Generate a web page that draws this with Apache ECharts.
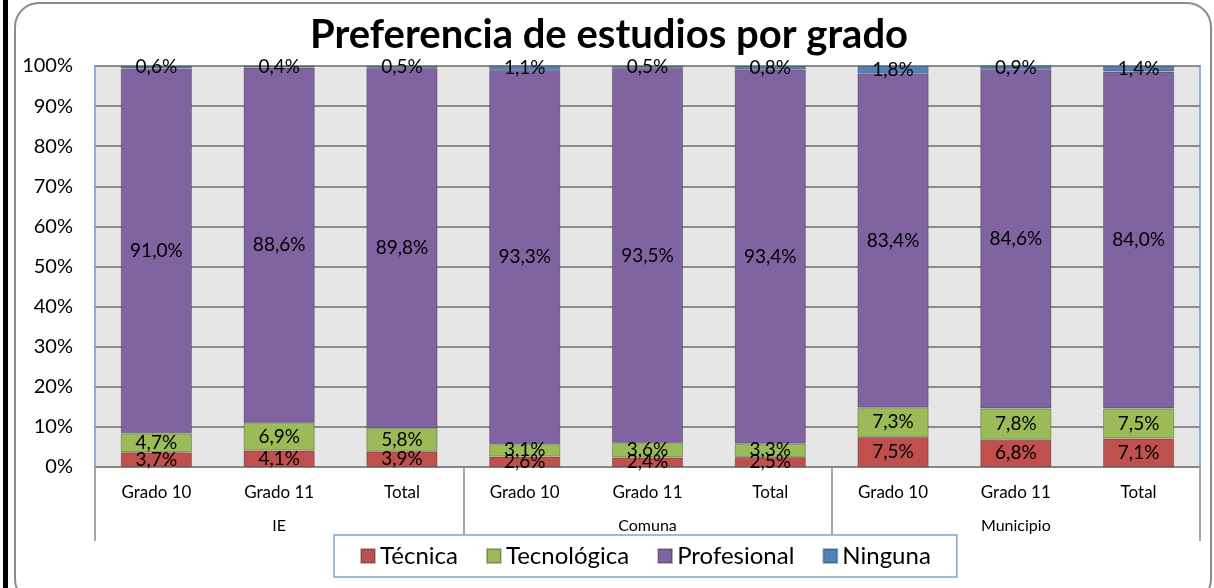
<!DOCTYPE html>
<html>
<head>
<meta charset="utf-8">
<title>Preferencia de estudios por grado</title>
<script src="https://cdn.jsdelivr.net/npm/echarts@6/dist/echarts.min.js"></script>
<style>
    html, body { margin: 0; padding: 0; background: #fff; }
    #chart { width: 1214px; height: 588px; }
</style>
</head>
<body>
<div id="chart"></div>
<script>
// Categories (grade) and their groups
const grados = ['Grado 10', 'Grado 11', 'Total', 'Grado 10', 'Grado 11', 'Total', 'Grado 10', 'Grado 11', 'Total'];
const grupos = ['IE', 'Comuna', 'Municipio'];

// Percent values
const tecnica     = [3.7, 4.1, 3.9, 2.6, 2.4, 2.5, 7.5, 6.8, 7.1];
const tecnologica = [4.7, 6.9, 5.8, 3.1, 3.6, 3.3, 7.3, 7.8, 7.5];
const profesional = [91.0, 88.6, 89.8, 93.3, 93.5, 93.4, 83.4, 84.6, 84.0];
const ninguna     = [0.6, 0.4, 0.5, 1.1, 0.5, 0.8, 1.8, 0.9, 1.4];

const FONT = 'Lato, "Open Sans", sans-serif';

// Format like the original: one decimal with comma
function pct(v) {
    return v.toFixed(1).replace('.', ',') + '%';
}

function makeSeries(name, data, color) {
    return {
        name: name,
        type: 'bar',
        stack: 'total',
        barWidth: '58%',
        data: data,
        itemStyle: {
            color: color,
            borderColor: 'rgba(0,0,0,0.25)',
            borderWidth: 1
        },
        label: {
            show: true,
            position: 'inside',
            color: '#000',
            fontSize: 19,
            fontFamily: FONT,
            formatter: p => pct(p.value)
        }
    };
}

const chart = echarts.init(document.getElementById('chart'));

const options = {
    animation: false,
    backgroundColor: '#fff',
    title: {
        text: 'Preferencia de estudios por grado',
        left: 604,
        textAlign: 'center',
        top: 10,
        textStyle: {
            fontFamily: FONT,
            fontSize: 40,
            fontWeight: 'bold',
            color: '#000'
        }
    },
    legend: {
        data: ['Técnica', 'Tecnológica', 'Profesional', 'Ninguna'],
        left: 334,
        top: 535,
        icon: 'rect',
        itemWidth: 14,
        itemHeight: 14,
        itemGap: 28,
        padding: [9, 26, 9, 26],
        borderColor: '#7FA3D0',
        borderWidth: 1.5,
        backgroundColor: '#fff',
        textStyle: {
            fontFamily: FONT,
            fontSize: 24,
            color: '#000'
        }
    },
    grid: {
        left: 95,
        right: 14,
        top: 66,
        bottom: 121,
        show: true,
        backgroundColor: '#E6E6E6',
        borderColor: '#8DB0DC',
        borderWidth: 2
    },
    xAxis: [
        {
            type: 'category',
            data: grados,
            axisLine: { lineStyle: { color: '#888', width: 2 } },
            axisTick: { show: false },
            axisLabel: {
                margin: 17,
                fontSize: 17,
                fontFamily: FONT,
                color: '#000'
            }
        },
        {
            type: 'category',
            data: grupos,
            position: 'bottom',
            axisLine: { show: false },
            axisTick: {
                show: true,
                length: 74,
                lineStyle: { color: '#A6A6A6', width: 2 }
            },
            axisLabel: {
                margin: 51,
                fontSize: 16,
                fontFamily: FONT,
                color: '#000'
            },
            splitLine: { show: false }
        }
    ],
    yAxis: {
        type: 'value',
        min: 0,
        max: 100,
        interval: 10,
        axisLine: { show: false },
        axisTick: { show: false },
        splitLine: { lineStyle: { color: '#8C8C8C', width: 2 } },
        axisLabel: {
            formatter: '{value}%',
            margin: 22,
            fontSize: 20,
            fontFamily: FONT,
            color: '#000'
        }
    },
    series: [
        makeSeries('Técnica', tecnica, '#C0504D'),
        makeSeries('Tecnológica', tecnologica, '#9BBB59'),
        makeSeries('Profesional', profesional, '#8064A2'),
        makeSeries('Ninguna', ninguna, '#4F81BD')
    ],
    graphic: [
        // outer rounded frame of the chart area
        {
            type: 'rect',
            shape: { x: 15, y: 3, width: 1196, height: 600, r: 24 },
            style: { fill: 'none', stroke: '#8C8C8C', lineWidth: 2 },
            z: -1
        },
        // dark page edge on the left
        {
            type: 'rect',
            shape: { x: 3, y: 0, width: 5, height: 588 },
            style: { fill: '#000' }
        }
    ]
};

chart.setOption(options);
</script>
</body>
</html>
